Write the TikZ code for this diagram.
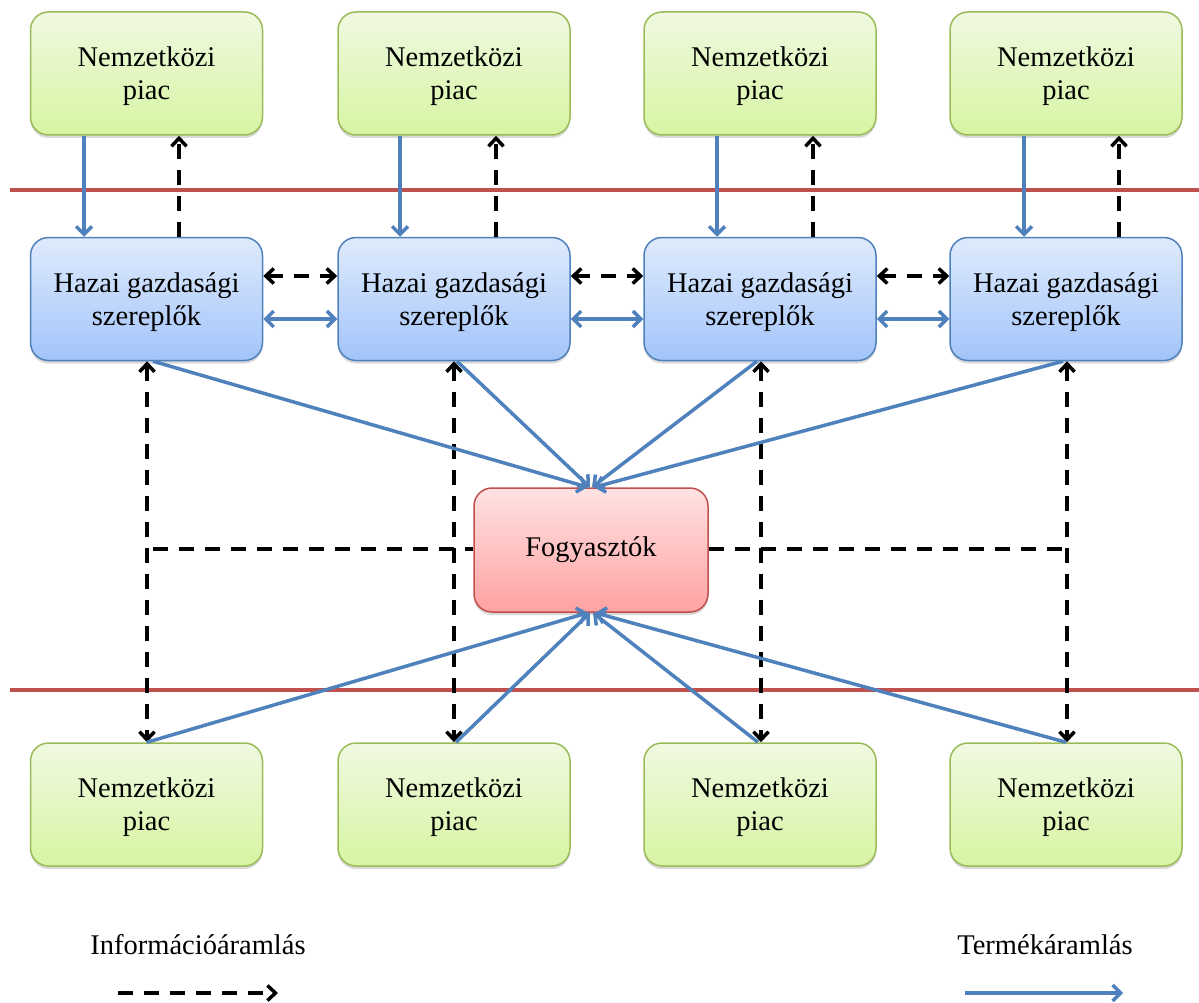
\documentclass[tikz,border=0pt]{standalone}
\usepackage{fontspec}
\setmainfont{Liberation Serif}
\usetikzlibrary{arrows.meta,shadows}

\definecolor{mktline}{RGB}{155,187,89}
\definecolor{mkttop}{RGB}{240,249,225}
\definecolor{mktbot}{RGB}{214,245,162}
\definecolor{actline}{RGB}{79,129,189}
\definecolor{acttop}{RGB}{223,235,252}
\definecolor{actbot}{RGB}{162,196,250}
\definecolor{conline}{RGB}{192,80,77}
\definecolor{contop}{RGB}{255,226,226}
\definecolor{conbot}{RGB}{255,162,162}
\definecolor{flowblue}{RGB}{79,129,189}
\definecolor{borderred}{RGB}{192,80,77}

% lifts the first line so two-line labels sit centred by their letters
\newcommand\firstline{\rule{0pt}{26pt}}

\begin{document}
\begin{tikzpicture}[x=1pt,y=-1pt,
  box/.style={rounded corners=18pt, minimum width=232pt, minimum height=123pt,
    align=center, inner sep=0pt, line width=1.5pt,
    font=\fontsize{28.5}{33}\selectfont,
    drop shadow={shadow xshift=0pt, shadow yshift=-3pt, opacity=0.3}},
  market/.style={box, draw=mktline, top color=mkttop, bottom color=mktbot},
  actor/.style={box, draw=actline, top color=acttop, bottom color=actbot},
  cons/.style={box, minimum width=234pt, minimum height=124pt,
    draw=conline, top color=contop, bottom color=conbot},
  ptip/.tip={Straight Barb[length=8pt,width=16pt,line width=3.5pt]},
  itip/.tip={Straight Barb[length=8pt,width=15pt,line width=3.5pt]},
  prod/.style={line width=3.5pt, draw=flowblue},
  prodtip/.style={prod, -ptip},
  info/.style={line width=4pt, draw=black, dash pattern=on 15pt off 11pt},
  infotip/.style={info, -itip},
  bordr/.style={line width=3.5pt, draw=borderred},
  legend/.style={font=\fontsize{28.5}{33}\selectfont, inner sep=0pt}]

\useasboundingbox (0,0) rectangle (1199,1003);

% borders of the domestic economy
\draw[bordr] (10,190) -- (1199,190);
\draw[bordr] (10,690) -- (1199,690);

% international markets above
\node[market] (t1) at (146.5,73.5) {\firstline Nemzetközi\\piac};
\node[market] (t2) at (454,73.5) {\firstline Nemzetközi\\piac};
\node[market] (t3) at (760,73.5) {\firstline Nemzetközi\\piac};
\node[market] (t4) at (1066,73.5) {\firstline Nemzetközi\\piac};

% domestic economic actors
\node[actor] (h1) at (146.5,299) {\firstline Hazai gazdasági\\szereplők};
\node[actor] (h2) at (454,299) {\firstline Hazai gazdasági\\szereplők};
\node[actor] (h3) at (760,299) {\firstline Hazai gazdasági\\szereplők};
\node[actor] (h4) at (1066,299) {\firstline Hazai gazdasági\\szereplők};

% consumers
\node[cons] (f) at (591,550) {Fogyasztók};

% international markets below
\node[market] (b1) at (146.5,804.5) {\firstline Nemzetközi\\piac};
\node[market] (b2) at (454,804.5) {\firstline Nemzetközi\\piac};
\node[market] (b3) at (760,804.5) {\firstline Nemzetközi\\piac};
\node[market] (b4) at (1066,804.5) {\firstline Nemzetközi\\piac};

% imports and information towards foreign markets
\draw[prodtip] ([xshift=-62.5pt]t1.south) -- ([xshift=-62.5pt]h1.north);
\draw[prodtip] ([xshift=-54pt]t2.south) -- ([xshift=-54pt]h2.north);
\draw[prodtip] ([xshift=-43pt]t3.south) -- ([xshift=-43pt]h3.north);
\draw[prodtip] ([xshift=-42pt]t4.south) -- ([xshift=-42pt]h4.north);
\draw[infotip] ([xshift=32.5pt]h1.north) -- ([xshift=32.5pt]t1.south);
\draw[infotip] ([xshift=42pt]h2.north) -- ([xshift=42pt]t2.south);
\draw[infotip] ([xshift=53pt]h3.north) -- ([xshift=53pt]t3.south);
\draw[infotip] ([xshift=53pt]h4.north) -- ([xshift=53pt]t4.south);

% links between domestic actors
\foreach \a/\b in {h1/h2,h2/h3,h3/h4}{
  \draw[info, itip-itip] ([yshift=23pt]\a.east) -- ([yshift=23pt]\b.west);
  \draw[prod, ptip-ptip] ([yshift=-20pt]\a.east) -- ([yshift=-20pt]\b.west);
}

% information between actors and foreign markets below
\foreach \a/\b/\s in {h1/b1/0.5,h2/b2/0,h3/b3/1,h4/b4/1}{
  \draw[info, itip-itip] ([xshift=\s pt]\a.south) -- ([xshift=\s pt]\b.north);
}

% products reaching the consumers
\draw[prodtip] ([xshift=6.5pt]h1.south) -- ([xshift=-3pt]f.north);
\draw[prodtip] ([xshift=3pt]h2.south) -- ([xshift=-1pt]f.north);
\draw[prodtip] ([xshift=-3pt]h3.south) -- ([xshift=1pt]f.north);
\draw[prodtip] ([xshift=-3pt]h4.south) -- ([xshift=3pt]f.north);
\draw[prodtip] ([xshift=0.5pt]b1.north) -- ([xshift=-3pt]f.south);
\draw[prodtip] ([xshift=2pt]b2.north) -- ([xshift=-1pt]f.south);
\draw[prodtip] ([xshift=-2pt]b3.north) -- ([xshift=2pt]f.south);
\draw[prodtip] ([xshift=0pt]b4.north) -- ([xshift=4pt]f.south);

% information line of the consumers
\coordinate (il) at (153,549);
\coordinate (ir) at (1062,549);
\draw[info] (il) -- (f.west |- il);
\draw[info] (f.east |- ir) -- (ir);

% legend
\node[legend] (li) at (198,945) {Információáramlás};
\node[legend] (lt) at (1045,945) {Termékáramlás};
\coordinate (lia) at (118,993);
\coordinate (lib) at (278,993);
\coordinate (lta) at (965,993);
\coordinate (ltb) at (1123,993);
\draw[infotip] (lia) -- (lib);
\draw[prodtip] (lta) -- (ltb);
\end{tikzpicture}
\end{document}
